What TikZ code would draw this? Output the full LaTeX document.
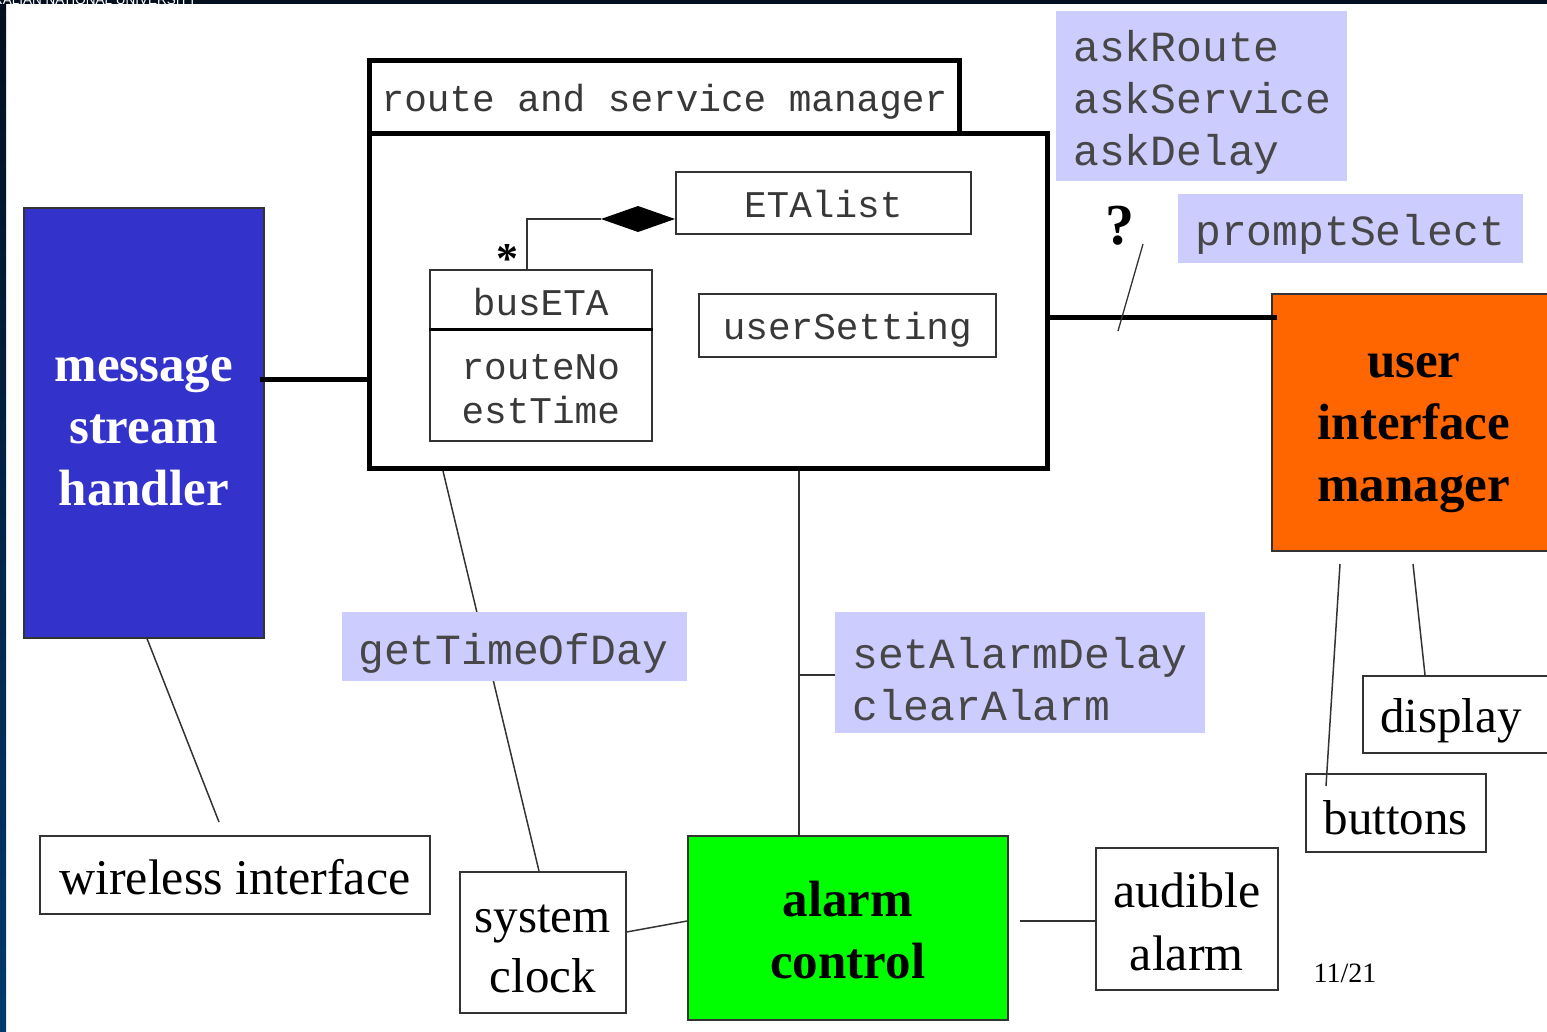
\documentclass[tikz,border=0pt]{standalone}
\usepackage{fontspec}
\setmainfont{Liberation Serif}
\setsansfont{Liberation Sans}
\setmonofont{Liberation Mono}
\definecolor{navytop}{HTML}{020F1F}
\definecolor{navybot}{HTML}{003A6E}
\definecolor{handlerblue}{HTML}{3333CC}
\definecolor{uiorange}{HTML}{FF6600}
\definecolor{alarmgreen}{HTML}{00FF00}
\definecolor{notecol}{HTML}{CCCCFF}
\definecolor{inkgray}{HTML}{333333}
\tikzset{
  umlbox/.style={draw=inkgray, line width=1.5pt, fill=white, inner sep=0pt, anchor=north west},
  heavybox/.style={draw=black, line width=5pt, fill=white, inner sep=0pt, anchor=north west},
  colorbox/.style={draw=inkgray, line width=1.5pt, inner sep=0pt, anchor=north west},
  headtext/.style={inner sep=0pt, align=center, font=\bfseries\fontsize{51}{62}\selectfont},
  plaintext/.style={inner sep=0pt, align=center, font=\fontsize{49}{61}\selectfont},
  monotext/.style={inner sep=0pt, align=center, font=\ttfamily\fontsize{37.7}{44}\selectfont, text=black!78},
  notebox/.style={fill=notecol, inner sep=0pt, anchor=north west},
  notetext/.style={inner sep=0pt, anchor=west, align=left,
    font=\ttfamily\fontsize{43}{52}\selectfont, text=black!72},
  wire/.style={draw=inkgray, line width=1.5pt},
  heavywire/.style={draw=black, line width=5pt},
}
\begin{document}
\begin{tikzpicture}[x=1pt, y=-1pt]
\useasboundingbox (0,0) rectangle (1547,1031);
\clip (0,0) rectangle (1547,1031);

% page frame: dark title strip and left edge band
\fill[navytop] (0,0) rectangle (1547,4);
\shade[top color=navytop, bottom color=navybot] (0,0) rectangle (6,1031);
\begin{scope}
  \clip (0,0) rectangle (200,4.5);
  \node[anchor=base east, inner sep=0pt, text=white, font=\sffamily\fontsize{13.5}{13.5}\selectfont]
    (uni) at (197,4) {AUSTRALIAN NATIONAL UNIVERSITY};
\end{scope}

% ---------------- route and service manager ----------------
\node[heavybox, minimum width=590pt, minimum height=73pt,
  label={[monotext, yshift=-5pt]center:route and service manager}] (rsmtitle) at (367,58) {};
\node[heavybox, minimum width=678pt, minimum height=335pt] (rsmbody) at (367,131) {};

\node[umlbox, minimum width=295pt, minimum height=62pt,
  label={[monotext, yshift=-1pt]center:ETAlist}] (etalist) at (675,171) {};
\node[umlbox, minimum width=222pt, minimum height=60pt,
  label={[monotext, yshift=-2pt]center:busETA}] (buseta) at (429,269) {};
\node[umlbox, minimum width=222pt, minimum height=111pt,
  label={[monotext, yshift=-4pt]center:routeNo\\estTime}] (busattr) at (429,329) {};
\draw[black, line width=3pt] (busattr.north west) -- (busattr.north east);
\node[umlbox, minimum width=297pt, minimum height=63pt,
  label={[monotext, yshift=-4pt]center:userSetting}] (usersetting) at (698,293) {};

% composition: ETAlist owns many busETA
\coordinate (dtip) at (601,219);
\coordinate (bend) at (527,219);
\fill[black] (etalist.west |- dtip) -- (638,206) -- (dtip) -- (638,232) -- cycle;
\draw[wire] (dtip) -- (bend) -- (buseta.north -| bend);
\node[inner sep=0pt, font=\bfseries\fontsize{44}{44}\selectfont] (many) at (507,259) {*};

% ---------------- outer components ----------------
\node[colorbox, fill=handlerblue, minimum width=240pt, minimum height=430pt,
  label={[headtext, text=white, yshift=-8pt]center:message\\stream\\handler}] (msh) at (23,207) {};
\node[colorbox, fill=uiorange, minimum width=284pt, minimum height=257pt,
  label={[headtext, yshift=-11pt]center:user\\interface\\manager}] (ui) at (1271,293) {};
\node[colorbox, fill=alarmgreen, minimum width=320pt, minimum height=184pt,
  label={[headtext, yshift=-2pt]center:alarm\\control}] (alarm) at (687,835) {};

\node[umlbox, minimum width=390pt, minimum height=78pt,
  label={[plaintext, font=\fontsize{50}{62}\selectfont, yshift=-2pt]center:wireless interface}] (wireless) at (39,835) {};
\node[umlbox, minimum width=166pt, minimum height=141pt,
  label={[plaintext, font=\fontsize{49}{60}\selectfont, yshift=-7pt]center:system\\clock}] (sysclock) at (459,871) {};
\node[umlbox, minimum width=182pt, minimum height=142pt,
  label={[plaintext, font=\fontsize{50}{63}\selectfont, yshift=-3pt]center:audible\\alarm}] (audible) at (1095,847) {};
\node[umlbox, minimum width=198pt, minimum height=77pt,
  label={[plaintext, anchor=west, yshift=-7pt, xshift=18pt]west:display}] (display) at (1362,675) {};
\node[umlbox, minimum width=180pt, minimum height=78pt,
  label={[plaintext, yshift=-5pt]center:buttons}] (buttons) at (1305,773) {};

% ---------------- connectors ----------------
\coordinate (mshy) at (0,379);
\coordinate (uiy) at (0,317);
\draw[heavywire] ([xshift=-5pt]msh.east |- mshy) -- (rsmbody.west |- mshy);
\draw[heavywire] (rsmbody.east |- uiy) -- ([xshift=6pt]ui.west |- uiy);

\coordinate (mshfoot) at (147,0);
\coordinate (wirelessend) at (219,822);
\draw[wire] (msh.south -| mshfoot) -- (wirelessend);

\coordinate (clockx) at (443,0);
\coordinate (clockin) at (539,0);
\coordinate (alarmx) at (799,0);
\draw[wire] (rsmbody.south -| clockx) -- (sysclock.north -| clockin);
\draw[wire] (rsmbody.south -| alarmx) -- (alarm.north -| alarmx);
\coordinate (tapy) at (799,675);
\coordinate (tapend) at (835,675);
\draw[wire] (tapy) -- (tapend);

\coordinate (clocky) at (0,932);
\coordinate (alarmy) at (0,921);
\draw[wire] (sysclock.east |- clocky) -- (alarm.west |- alarmy);
\coordinate (alarmout) at (1020,921);
\draw[wire] (alarmout) -- (audible.west |- alarmy);

\coordinate (uibtn) at (1340,564);
\coordinate (btnend) at (1326,786);
\coordinate (uidisp) at (1413,564);
\coordinate (dispx) at (1425,0);
\draw[wire] (uibtn) -- (btnend);
\draw[wire] (uidisp) -- (display.north -| dispx);

\coordinate (qtop) at (1143,244);
\coordinate (qbot) at (1118,331);
\draw[wire, line width=1.3pt] (qtop) -- (qbot);
\node[inner sep=0pt, font=\bfseries\fontsize{58}{58}\selectfont] (query) at (1120,226) {?};

% ---------------- message notes ----------------
\node[notebox, minimum width=291pt, minimum height=170pt] (asknote) at (1056,11) {};
\node[notetext] (asktext) at ([xshift=17pt, yshift=-6pt]asknote.west) {askRoute\\askService\\askDelay};
\node[notebox, minimum width=345pt, minimum height=69pt] (promptnote) at (1178,194) {};
\node[notetext] (prompttext) at ([xshift=17pt, yshift=-6pt]promptnote.west) {promptSelect};
\node[notebox, minimum width=345pt, minimum height=69pt] (timenote) at (342,612) {};
\node[notetext] (timetext) at ([xshift=16pt, yshift=-7pt]timenote.west) {getTimeOfDay};
\node[notebox, minimum width=370pt, minimum height=121pt] (alarmnote) at (835,612) {};
\node[notetext] (alarmtext) at ([xshift=17pt, yshift=-6pt]alarmnote.west) {setAlarmDelay\\clearAlarm};

% page number
\node[inner sep=0pt, font=\fontsize{28}{28}\selectfont] (pageno) at (1345,973) {11/21};
\end{tikzpicture}
\end{document}
